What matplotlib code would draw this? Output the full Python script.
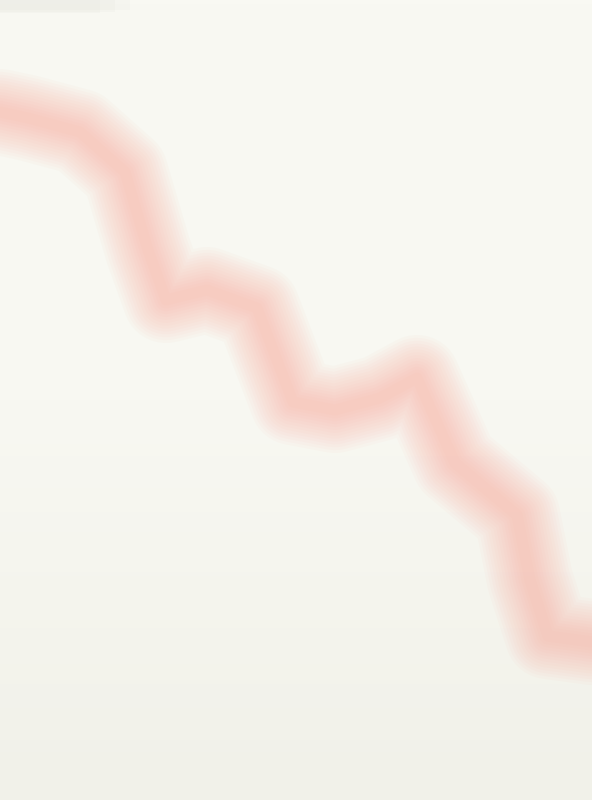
import matplotlib
matplotlib.use('Agg')
import matplotlib.pyplot as plt
import numpy as np

x_vals = [0, 28, 80, 125, 148, 166, 207, 257, 293, 335, 380, 417, 455, 517, 530, 548, 592]
y_vals = [112, 118, 132, 172, 250, 300, 290, 308, 402, 410, 398, 378, 463, 515, 580, 636, 642]

line_color = '#f7a495'
bg_color = '#f8f8f2'

fig = plt.figure(figsize=(5.92, 8), dpi=100)
fig.patch.set_facecolor(bg_color)
ax = fig.add_axes([0, 0, 1, 1])
ax.set_facecolor(bg_color)

# soft vertical background gradient (slightly greyer towards the bottom)
grad = np.linspace(0, 1, 200).reshape(-1, 1)
ax.imshow(grad, extent=[0, 592, 800, 0], cmap=matplotlib.colors.LinearSegmentedColormap.from_list(
    'bg', ['#f9f9f3', '#f8f8f2', '#f1f1e9']), aspect='auto', zorder=0)

# faint grey smudge at the top left
for w, a in [(130, 0.12), (115, 0.12), (100, 0.12)]:
    ax.fill_between([0, w], 0, 10 + (130 - w) * 0.1, color='#dcdcd4', alpha=a, lw=0, zorder=1)

# many stacked translucent strokes to mimic the soft, blurred line
widths = np.linspace(62, 8, 14)
for lw in widths:
    ax.plot(x_vals, y_vals, color=line_color, lw=lw, alpha=0.045, zorder=2,
            solid_capstyle='round', solid_joinstyle='round')

ax.set_xlim(0, 592)
ax.set_ylim(800, 0)
ax.axis('off')

fig.savefig('out.png', dpi=100, facecolor=bg_color)
